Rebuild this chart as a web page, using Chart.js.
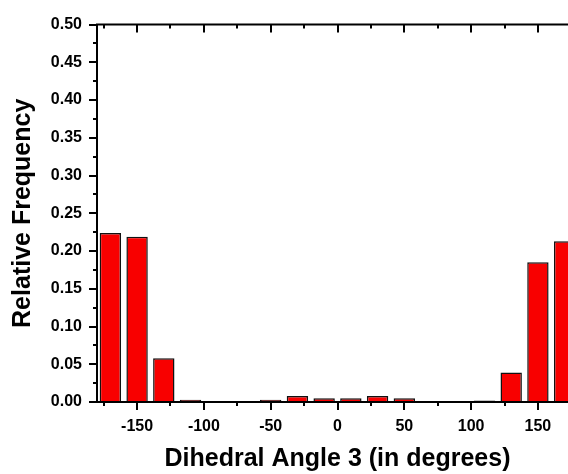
<!DOCTYPE html>
<html>
<head>
<meta charset="utf-8">
<script src="https://cdn.jsdelivr.net/npm/chart.js@4"></script>
<style>
  html, body { margin: 0; padding: 0; background: #fff; overflow: hidden; }
  #wrap { width: 600px; height: 474px; }
</style>
</head>
<body>
<div id="wrap"><canvas id="histChart" width="600" height="474"></canvas></div>
<script>
// bin centres (degrees) and relative frequency per 20-degree bin
const binCenters = [-170, -150, -130, -110, -90, -70, -50, -30, -10, 10, 30, 50, 70, 90, 110, 130, 150, 170];
const frequencies = [0.224, 0.219, 0.058, 0.003, 0, 0, 0.003, 0.008, 0.005, 0.005, 0.008, 0.005, 0, 0, 0.002, 0.039, 0.185, 0.213];

const xMajorTicks = [-150, -100, -50, 0, 50, 100, 150];
const xMinorTicks = [-175, -125, -75, -25, 25, 75, 125, 175];
const yMajorTicks = [0, 0.05, 0.1, 0.15, 0.2, 0.25, 0.3, 0.35, 0.4, 0.45, 0.5];
const yMinorTicks = [0.025, 0.075, 0.125, 0.175, 0.225, 0.275, 0.325, 0.375, 0.425, 0.475];

const FONT = "'Liberation Sans', Arial, sans-serif";

// box frame with outward ticks on left/bottom and mirrored ticks on top
const frameAxes = {
    id: 'frameAxes',
    afterDatasetsDraw(chart) {
        const { ctx, chartArea: a, scales: { x, y } } = chart;
        ctx.save();
        ctx.strokeStyle = '#000';
        ctx.lineWidth = 2;
        ctx.lineCap = 'square';
        ctx.beginPath();
        ctx.moveTo(a.left, a.top); ctx.lineTo(a.right, a.top);
        ctx.moveTo(a.left, a.bottom); ctx.lineTo(a.right, a.bottom);
        ctx.moveTo(a.left, a.top); ctx.lineTo(a.left, a.bottom);
        ctx.moveTo(a.right, a.top); ctx.lineTo(a.right, a.bottom);
        ctx.stroke();

        ctx.lineCap = 'butt';
        ctx.beginPath();
        const xt = (v, len) => {
            const px = Math.round(x.getPixelForValue(v));
            ctx.moveTo(px, a.bottom); ctx.lineTo(px, a.bottom + len);
            ctx.moveTo(px, a.top); ctx.lineTo(px, a.top + len);
        };
        const yt = (v, len) => {
            const py = Math.round(y.getPixelForValue(v));
            ctx.moveTo(a.left, py); ctx.lineTo(a.left - len, py);
        };
        xMajorTicks.forEach(v => xt(v, 8));
        xMinorTicks.forEach(v => xt(v, 4));
        yMajorTicks.forEach(v => yt(v, 8));
        yMinorTicks.forEach(v => yt(v, 4));
        ctx.stroke();
        ctx.restore();
    }
};

new Chart(document.getElementById('histChart'), {
    type: 'bar',
    data: {
        datasets: [{
            data: binCenters.map((c, i) => ({ x: c, y: frequencies[i] })),
            backgroundColor: '#f80000',
            borderColor: '#111',
            borderWidth: 1.5,
            borderSkipped: 'start',
            categoryPercentage: 1,
            barPercentage: 0.8
        }]
    },
    plugins: [frameAxes],
    options: {
        responsive: false,
        animation: false,
        layout: { padding: { top: 22, right: 22, left: 0, bottom: 0 } },
        plugins: { legend: { display: false }, tooltip: { enabled: false } },
        scales: {
            x: {
                type: 'linear',
                min: -180,
                max: 180,
                offset: false,
                afterFit: s => { s.height = 72; },
                afterBuildTicks: s => { s.ticks = xMajorTicks.map(v => ({ value: v })); },
                grid: { display: false, drawTicks: false, offset: false },
                border: { display: false },
                ticks: {
                    color: '#000',
                    padding: 15,
                    maxRotation: 0,
                    font: { family: FONT, size: 16, weight: 'bold' }
                },
                title: {
                    display: true,
                    text: 'Dihedral Angle 3 (in degrees)',
                    color: '#000',
                    padding: { bottom: 0 },
                    font: { family: FONT, size: 25, weight: 'bold' }
                }
            },
            y: {
                min: 0,
                max: 0.5,
                afterFit: s => { s.width = 97; },
                afterBuildTicks: s => { s.ticks = yMajorTicks.map(v => ({ value: v })); },
                grid: { display: false, drawTicks: false },
                border: { display: false },
                ticks: {
                    color: '#000',
                    padding: 15,
                    callback: v => v.toFixed(2),
                    font: { family: FONT, size: 16, weight: 'bold' }
                },
                title: {
                    display: true,
                    text: 'Relative Frequency',
                    color: '#000',
                    padding: { top: 8 },
                    font: { family: FONT, size: 25, weight: 'bold' }
                }
            }
        }
    }
});
</script>
</body>
</html>
